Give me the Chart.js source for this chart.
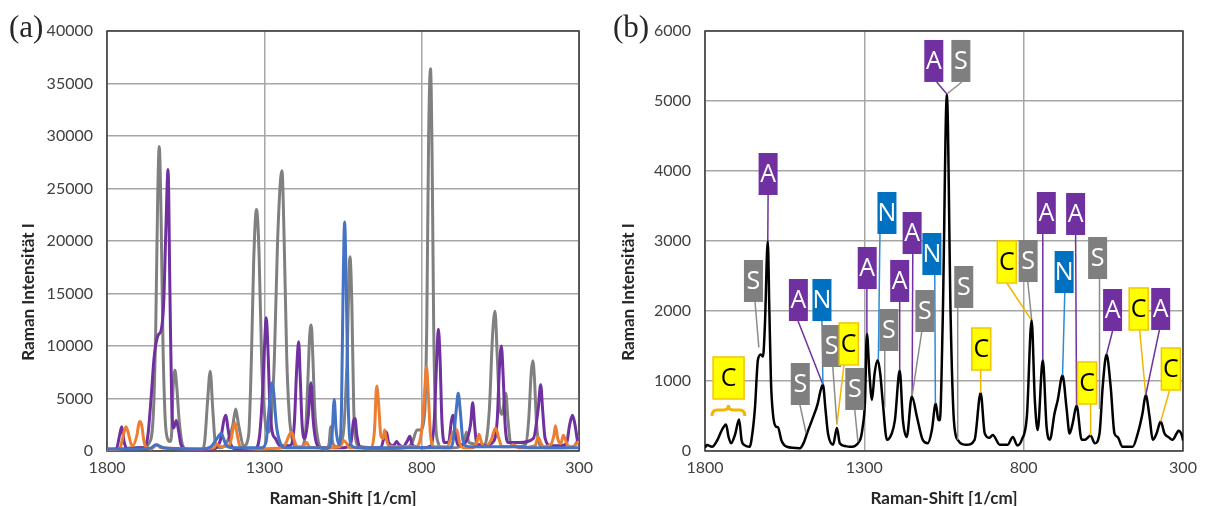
<!DOCTYPE html>
<html lang="de">
<head>
<meta charset="UTF-8">
<title>Raman-Spektren</title>
<script src="https://cdn.jsdelivr.net/npm/chart.js"></script>
<style>
    body{
        margin: 0;
        background: #fff;
        width: 1207px;
        height: 506px;
        overflow: hidden;
        position: relative;
    }
    .painel{
        position: absolute;
        top: 0;
        height: 506px;
    }
    #boxA{ left: 0; width: 600px; }
    #boxB{ left: 600px; width: 607px; }
</style>
</head>
<body>
<div class="painel" id="boxA"><canvas id="chartA"></canvas></div>
<div class="painel" id="boxB"><canvas id="chartB"></canvas></div>
<script>
// axis texts
const shiftTicks = [1800, 1300, 800, 300];
const shiftTitle = 'Raman-Shift [1/cm]';
const intensityTitle = 'Raman Intensität I';

// (a) reference spectra, [shift, intensity]
const graySpectrum = [
    [1800,200],[1760,200],[1720,300],[1690,300],[1665,800],[1652,4000],[1645,12000],[1639,24000],
    [1634,29000],[1628,22000],[1622,10000],[1615,3000],[1608,1200],[1600,900],[1595,1500],[1590,6000],
    [1584,7700],[1578,6000],[1571,3000],[1562,800],[1550,200],[1500,100],[1490,800],[1481,4500],
    [1472,7600],[1464,4000],[1455,600],[1440,300],[1420,800],[1400,2500],[1391,4000],[1382,2500],
    [1365,500],[1350,1500],[1341,9000],[1334,18000],[1325,23000],[1317,19000],[1308,8000],[1298,3000],
    [1288,1800],[1278,3000],[1268,9000],[1258,20000],[1244,26700],[1237,20000],[1229,9000],[1221,3500],
    [1212,1200],[1200,400],[1185,300],[1170,1500],[1162,6500],[1156,11000],[1151,12000],[1146,9000],
    [1140,4000],[1132,1500],[1120,300],[1100,200],[1094,800],[1089,2300],[1083,800],[1070,400],
    [1050,1500],[1038,8000],[1028,18500],[1022,14000],[1016,4000],[1010,1200],[1000,400],[950,200],
    [850,300],[830,800],[815,2000],[805,2000],[791,3500],[784,12000],[778,30000],[772,36400],
    [767,28000],[762,12000],[756,3000],[748,800],[735,300],[700,300],[665,800],[658,1800],
    [650,800],[600,600],[585,4000],[575,11000],[567,13300],[560,9000],[552,4000],[545,3500],
    [533,5500],[526,3000],[518,800],[500,400],[470,600],[460,3000],[452,7500],[447,8600],
    [442,7000],[435,2500],[425,600],[400,300],[350,300],[320,400],[305,1000],[300,1500]
];
const purpleSpectrum = [
    [1800,100],[1770,200],[1760,1500],[1753,2300],[1745,800],[1735,200],[1700,300],[1680,300],
    [1670,1500],[1660,5000],[1650,9000],[1638,11000],[1628,11500],[1620,14000],[1613,21000],[1606,26800],
    [1600,15000],[1594,4000],[1588,2200],[1580,2900],[1573,2000],[1565,600],[1550,200],[1500,100],
    [1460,200],[1440,1000],[1428,3000],[1422,3400],[1415,2000],[1405,500],[1390,200],[1330,200],
    [1315,1500],[1305,6000],[1298,11000],[1294,12700],[1289,10000],[1282,4000],[1275,1800],[1265,1200],
    [1250,500],[1220,500],[1205,2500],[1197,8000],[1191,10400],[1186,7000],[1180,2500],[1172,1200],
    [1160,3500],[1152,6500],[1145,3000],[1135,800],[1120,300],[1050,300],[1025,800],[1017,2800],
    [1012,3100],[1006,1500],[995,400],[930,300],[918,1500],[912,1800],[905,800],[890,500],
    [880,900],[872,600],[860,400],[845,1000],[838,1400],[830,600],[800,300],[770,500],
    [760,3000],[752,9000],[747,11600],[742,9000],[736,3000],[728,800],[715,800],[705,3000],
    [700,3400],[694,2000],[685,600],[670,600],[645,2500],[638,4600],[632,2500],[625,600],
    [600,500],[575,800],[560,3000],[553,8000],[547,10000],[541,7000],[535,2500],[525,800],
    [490,800],[445,1200],[430,4000],[422,6300],[416,4000],[408,1200],[390,500],[360,500],
    [340,700],[330,2500],[321,3400],[313,2500],[305,1000],[300,800]
];
const blueSpectrum = [
    [1800,200],[1700,200],[1660,300],[1645,600],[1635,500],[1620,300],[1550,200],[1500,200],
    [1470,400],[1455,1000],[1443,1500],[1437,1700],[1430,1200],[1420,500],[1400,300],[1310,300],
    [1295,800],[1285,4000],[1276,6500],[1270,5500],[1262,2500],[1250,800],[1235,300],[1095,300],
    [1085,1500],[1078,4900],[1072,2000],[1062,600],[1055,4000],[1050,15000],[1045,21800],[1040,16000],
    [1034,5000],[1028,1000],[1018,400],[1000,300],[750,300],[712,300],[700,1000],[690,4000],
    [684,5500],[678,4000],[670,1200],[660,500],[640,400],[500,400],[450,300],[300,300]
];
const orangeSpectrum = [
    [1800,100],[1760,200],[1748,1500],[1740,2300],[1733,1800],[1724,700],[1718,500],[1705,1500],
    [1697,2800],[1690,2500],[1683,1000],[1675,300],[1660,200],[1640,600],[1630,300],[1500,200],
    [1460,300],[1452,700],[1440,400],[1410,600],[1400,2000],[1393,2700],[1386,1500],[1378,500],
    [1365,300],[1320,200],[1240,300],[1228,1000],[1220,1600],[1213,1800],[1205,1000],[1195,400],
    [1175,500],[1165,800],[1158,400],[1130,300],[1060,400],[1048,1000],[1040,800],[1030,300],
    [960,300],[950,2000],[943,6200],[937,4500],[930,1500],[922,1200],[918,2000],[913,1200],
    [905,500],[880,400],[820,400],[800,2000],[790,6000],[785,8000],[780,6000],[772,1500],
    [760,400],[720,400],[700,1800],[688,2000],[680,800],[665,300],[640,300],[625,800],
    [618,1600],[610,800],[600,400],[580,1000],[565,2200],[555,1200],[545,400],[520,400],
    [510,600],[490,300],[440,500],[430,1300],[422,800],[412,400],[390,600],[380,1500],
    [375,2400],[368,1200],[358,700],[350,1500],[345,1200],[335,500],[318,400],[305,800],[300,900]
];

// (b) measured spectrum
const blackSpectrum = [
    [1800,50],[1794,85],[1778,60],[1762,150],[1747,300],[1734,380],[1726,200],[1718,110],
    [1706,230],[1693,450],[1685,150],[1675,80],[1660,60],[1650,300],[1643,630],[1634,1300],
    [1625,1380],[1618,1350],[1612,1800],[1603,3000],[1598,2000],[1593,1000],[1587,540],[1578,350],
    [1571,340],[1560,150],[1543,60],[1502,40],[1490,120],[1480,250],[1461,480],[1446,680],
    [1438,850],[1430,950],[1422,600],[1414,250],[1398,90],[1386,330],[1377,110],[1360,70],
    [1346,60],[1314,150],[1305,350],[1298,700],[1292,1680],[1284,1100],[1276,730],[1268,1100],
    [1258,1300],[1250,1100],[1242,690],[1229,160],[1214,250],[1204,440],[1189,1150],[1179,440],
    [1167,200],[1151,780],[1135,490],[1117,160],[1101,110],[1088,300],[1076,680],[1068,450],
    [1063,440],[1054,1870],[1041,5100],[1029,1870],[1019,440],[1007,160],[979,90],[954,160],
    [935,830],[922,250],[907,190],[897,230],[875,90],[850,90],[834,200],[820,80],
    [806,160],[790,490],[775,1870],[765,730],[756,300],[740,1300],[728,340],[718,160],
    [703,540],[693,730],[678,1080],[665,590],[656,250],[646,400],[634,650],[618,160],
    [608,160],[590,220],[577,110],[562,250],[552,920],[540,1380],[527,920],[515,250],
    [505,200],[490,60],[458,60],[442,250],[427,540],[417,800],[405,490],[395,160],
    [383,250],[370,420],[358,250],[346,200],[333,160],[320,250],[314,290],[301,180],[300,150]
];

// band labels of (b): letter, box centre shift, box top intensity, line start shift, peak shift, peak intensity
const bandLabels = [
    ['C',1726,1343,null,null,null],
    ['S',1648,2729,1643,1631,1480],
    ['A',1602,4257,1602,1603,3000],
    ['A',1507,2457,1508,1430,950],
    ['N',1433,2457,1433,1430,950],
    ['S',1501,1257,1502,1483,257],
    ['S',1403,1800,1399,1386,380],
    ['C',1349,1829,1364,1386,380],
    ['S',1330,1186,1330,1320,130],
    ['A',1291,2914,1292,1292,1680],
    ['N',1229,3700,1251,1256,1300],
    ['S',1223,2029,1236,1236,620],
    ['A',1189,2729,1189,1189,1150],
    ['A',1150,3414,1148,1150,790],
    ['N',1088,3114,1079,1077,680],
    ['S',1110,2300,1120,1150,790],
    ['A',1082,5872,1073,1041,5100],
    ['S',997,5872,994,1041,5100],
    ['S',988,2643,1007,1007,160],
    ['C',933,1757,935,935,830],
    ['C',853,3000,853,777,1880],
    ['S',786,3014,787,775,1880],
    ['A',729,3700,740,740,1300],
    ['A',637,3686,637,634,650],
    ['N',673,2857,671,678,1080],
    ['S',568,3057,562,562,600],
    ['C',601,1271,590,590,220],
    ['A',521,2314,521,540,1380],
    ['C',439,2329,436,417,800],
    ['A',370,2329,374,417,800],
    ['C',338,1471,342,370,420]
];

const letterColors = { A: '#7030a0', S: '#7f7f7f', N: '#0070c0', C: '#ffff00' };
const lineColors = { A: '#7030a0', S: '#8c8c8c', N: '#2e8bd6', C: '#f2b600' };

Chart.defaults.font.family = 'Lato';

function pontos(spectrum){
    return spectrum.map(p => ({ x: p[0], y: p[1] }));
}

function serie(spectrum, color, width){
    return {
        data: pontos(spectrum),
        borderColor: color,
        borderWidth: width,
        pointRadius: 0,
        fill: false,
        cubicInterpolationMode: 'monotone'
    };
}

// frame, panel letter and axis titles
const panelPlugin = {
    id: 'panel',
    beforeDatasetsDraw(chart){
        const a = chart.chartArea, ctx = chart.ctx;
        ctx.save();
        ctx.strokeStyle = '#3a3a3a';
        ctx.lineWidth = 1.5;
        ctx.strokeRect(a.left, a.top, a.right - a.left, a.bottom - a.top);
        ctx.restore();
    },
    afterDraw(chart, args, opts){
        const a = chart.chartArea, ctx = chart.ctx;
        ctx.save();
        ctx.fillStyle = '#262626';
        ctx.font = '31px "Liberation Serif"';
        ctx.textAlign = 'left';
        ctx.textBaseline = 'alphabetic';
        ctx.fillText(opts.letter, opts.letterX, 37);
        ctx.font = 'bold 17px Lato';
        ctx.textAlign = 'center';
        ctx.textBaseline = 'middle';
        ctx.fillText(shiftTitle, (a.left + a.right) / 2, 499);
        ctx.translate(29, 292);
        ctx.rotate(-Math.PI / 2);
        ctx.fillText(intensityTitle, 0, 0);
        ctx.restore();
    }
};

// coloured letter boxes with leader lines
const bandPlugin = {
    id: 'bands',
    afterDatasetsDraw(chart, args, opts){
        if(!opts.labels) return;
        const ctx = chart.ctx, sx = chart.scales.x, sy = chart.scales.y;
        ctx.save();
        // brace under the first C
        const b1 = sx.getPixelForValue(1778), b2 = sx.getPixelForValue(1675), by = sy.getPixelForValue(586);
        const bm = (b1 + b2) / 2;
        ctx.strokeStyle = '#f2b600';
        ctx.lineWidth = 3;
        ctx.beginPath();
        ctx.moveTo(b1, by + 6);
        ctx.quadraticCurveTo(b1, by, b1 + 5, by);
        ctx.lineTo(bm - 5, by);
        ctx.quadraticCurveTo(bm, by, bm, by - 5);
        ctx.quadraticCurveTo(bm, by, bm + 5, by);
        ctx.lineTo(b2 - 5, by);
        ctx.quadraticCurveTo(b2, by, b2, by + 6);
        ctx.stroke();

        opts.labels.forEach(l => {
            const t = l[0];
            const w = t === 'C' && l[3] === null ? 31 : 19;
            const h = 42;
            const cx = sx.getPixelForValue(l[1]);
            const top = sy.getPixelForValue(l[2]);
            if(l[3] !== null){
                ctx.strokeStyle = lineColors[t];
                ctx.lineWidth = 1.5;
                ctx.beginPath();
                ctx.moveTo(sx.getPixelForValue(l[3]), top + h);
                ctx.lineTo(sx.getPixelForValue(l[4]), sy.getPixelForValue(l[5]));
                ctx.stroke();
            }
            ctx.fillStyle = letterColors[t];
            ctx.fillRect(cx - w / 2, top, w, h);
            if(t === 'C'){
                ctx.strokeStyle = '#f5c400';
                ctx.lineWidth = 1.5;
                ctx.strokeRect(cx - w / 2, top, w, h);
            }
            ctx.fillStyle = t === 'C' ? '#000' : '#fff';
            ctx.font = '25px "Open Sans"';
            ctx.textAlign = 'center';
            ctx.textBaseline = 'middle';
            ctx.fillText(t, cx, top + h / 2 + 1);
        });
        ctx.restore();
    }
};

function grafico(id, datasets, yMax, yStep, yWidth, rightPad, letter, letterX, labels){
    return new Chart(document.getElementById(id), {
        type: 'line',
        data: { datasets: datasets },
        options: {
            responsive: true,
            maintainAspectRatio: false,
            animation: false,
            layout: { padding: { top: 31, right: rightPad, left: 0, bottom: 0 } },
            plugins: {
                legend: { display: false },
                tooltip: { enabled: false },
                panel: { letter: letter, letterX: letterX },
                bands: { labels: labels }
            },
            scales: {
                x: {
                    type: 'linear',
                    reverse: true,
                    min: 300,
                    max: 1800,
                    afterBuildTicks: s => { s.ticks = shiftTicks.map(v => ({ value: v })); },
                    afterFit: s => { s.height = 55; },
                    ticks: { color: '#404040', font: { size: 16 }, padding: 7, maxRotation: 0, callback: v => String(v) },
                    grid: { color: '#a6a6a6', lineWidth: 1.5, drawTicks: false },
                    border: { display: false }
                },
                y: {
                    min: 0,
                    max: yMax,
                    afterFit: s => { s.width = yWidth; },
                    ticks: { stepSize: yStep, color: '#404040', font: { size: 16 }, padding: 14, callback: v => String(v) },
                    grid: { color: '#a6a6a6', lineWidth: 1.5, drawTicks: false },
                    border: { display: false }
                }
            }
        },
        plugins: [panelPlugin, bandPlugin]
    });
}

grafico('chartA', [
    serie(blueSpectrum, '#4472c4', 3),
    serie(orangeSpectrum, '#ed7d31', 3),
    serie(purpleSpectrum, '#7030a0', 3),
    serie(graySpectrum, '#808080', 3)
], 40000, 5000, 107, 13, '(a)', 9, null);

grafico('chartB', [
    serie(blackSpectrum, '#000000', 2.5)
], 6000, 1000, 105, 24, '(b)', 13, bandLabels);
</script>
</body>
</html>
